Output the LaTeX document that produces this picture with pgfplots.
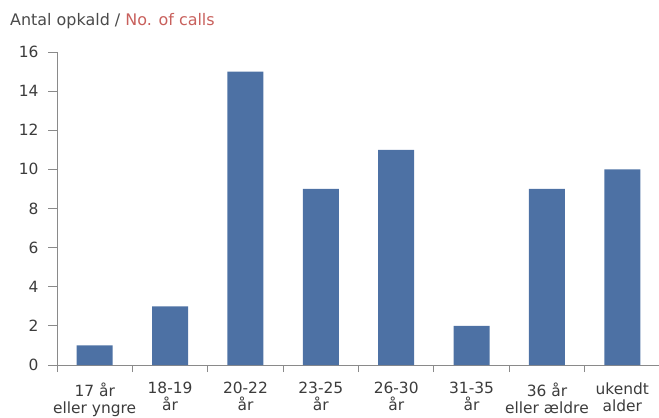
\documentclass[border=0pt]{standalone}
\usepackage{pgfplots}
\pgfplotsset{compat=1.18}
\usepackage{fontspec}
\setmainfont{DejaVu Sans}
\definecolor{barblue}{HTML}{4D71A4}
\definecolor{titlegray}{HTML}{4A4A4A}
\definecolor{titlered}{HTML}{C8605C}
\definecolor{axisgray}{HTML}{8A8A8A}
\definecolor{labelgray}{HTML}{3C3C3C}
\begin{document}
\begin{tikzpicture}[x=1bp,y=1bp]
\path[use as bounding box] (0,0) rectangle (659,417);
\node[anchor=base west, inner sep=0, text=titlegray, font=\fontsize{16}{18}\selectfont] at (10,391) {Antal opkald / \textcolor{titlered}{No. of calls}};
\begin{axis}[
  at={(57bp,52bp)}, anchor=south west,
  scale only axis, width=603bp, height=313bp,
  xmin=0.5, xmax=8.5, ymin=0, ymax=16,
  axis lines*=left,
  axis line style={draw=axisgray, line width=0.9pt},
  /pgf/number format/assume math mode=true,
  ytick={0,2,...,16},
  xtick={1,...,8},
  xticklabels={{17 år\\eller yngre},{18-19\\år},{20-22\\år},{23-25\\år},{26-30\\år},{31-35\\år},{36 år\\eller ældre},{ukendt\\alder}},
  minor xtick={0.5,1.5,...,7.5},
  tick align=outside,
  major tick length=9bp,
  minor tick length=7bp,
  major x tick style={draw=none},
  minor x tick style={draw=axisgray, line width=0.9pt},
  major y tick style={draw=axisgray, line width=0.9pt},
  xticklabel style={align=center, font=\fontsize{15.5}{17}\selectfont, text=labelgray, yshift=-5bp},
  yticklabel style={font=\fontsize{15.5}{17.5}\selectfont, text=labelgray, xshift=-6bp},
  ybar, bar width=36bp,
  clip=false,
]
\addplot[fill=barblue, draw=none] coordinates {(1,1) (2,3) (3,15) (4,9) (5,11) (6,2) (7,9) (8,10)};
\end{axis}
\end{tikzpicture}
\end{document}
